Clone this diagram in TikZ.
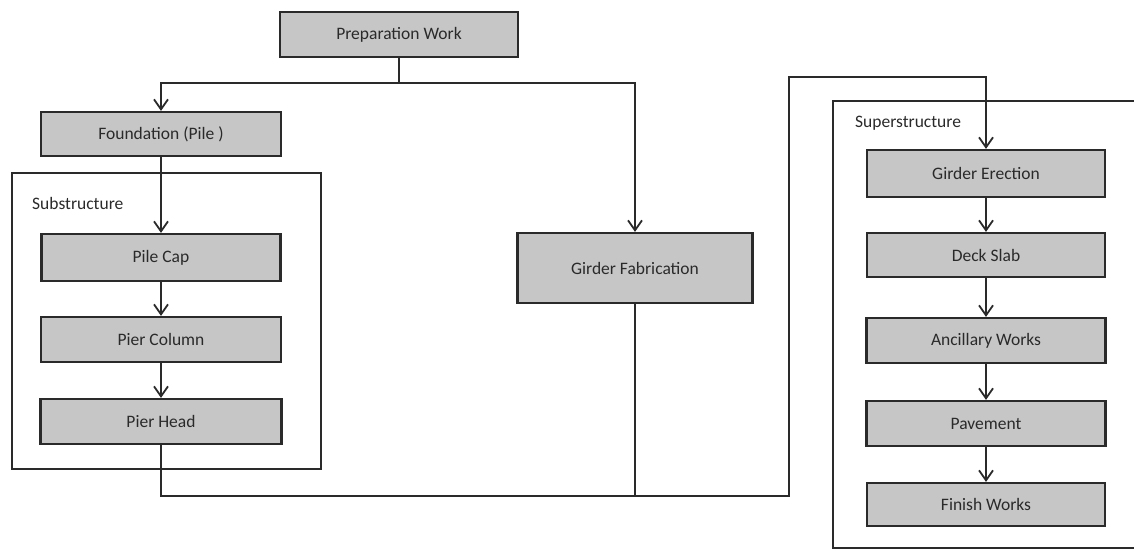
\documentclass[tikz,border=0pt]{standalone}
\usepackage{fontspec}
\setmainfont{Carlito}
\usetikzlibrary{arrows.meta}
\definecolor{boxfill}{HTML}{C6C6C6}
\definecolor{ink}{HTML}{2A2A2A}
\begin{document}
\begin{tikzpicture}[x=1pt,y=-1pt,
  stepbox/.style={draw=ink,line width=2.2pt,fill=boxfill,minimum width=#1,inner sep=0pt,
    font=\fontsize{17.5}{20}\selectfont,text=ink},
  stepbox/.default=239pt,
  frame/.style={draw=ink,line width=1.9pt},
  lbl/.style={anchor=west,inner sep=0pt,font=\fontsize{17.5}{20}\selectfont,text=ink},
  conn/.style={draw=ink,line width=1.8pt},
  arr/.style={conn,-{Straight Barb[length=10pt,width=14pt,line width=1.8pt]}}]
\useasboundingbox (0,0) rectangle (1134,551);
% frames
\draw[frame] (12,173) rectangle (321,469);
\draw[frame] (1140,101) -- (833,101) -- (833,548) -- (1140,548);
\node[lbl] (sublbl) at (32,203) {Substructure};
\node[lbl] (suplbl) at (855,123) {Superstructure};
% boxes
\node[stepbox=238pt,minimum height=45pt] (prep) at (399,34.5) {Preparation Work};
\node[stepbox=240pt,minimum height=44pt] (found) at (161,134) {Foundation (Pile )};
\node[stepbox=239pt,minimum height=47pt] (pilecap) at (161,257.5) {Pile Cap};
\node[stepbox=240pt,minimum height=45pt] (piercol) at (161,339.5) {Pier Column};
\node[stepbox=241pt,minimum height=45pt] (pierhead) at (161,421.5) {Pier Head};
\node[stepbox=235pt,minimum height=70pt] (gfab) at (635,268) {Girder Fabrication};
\node[stepbox=238pt,minimum height=47pt] (gerect) at (986,173.5) {Girder Erection};
\node[stepbox=238pt,minimum height=44pt] (deck) at (986,255) {Deck Slab};
\node[stepbox=239pt,minimum height=45pt] (ancil) at (986,340.5) {Ancillary Works};
\node[stepbox=239pt,minimum height=45pt] (pave) at (986,423.5) {Pavement};
\node[stepbox=238pt,minimum height=43pt] (finish) at (986,504.5) {Finish Works};
% connectors
\draw[arr] (prep.south) -- ++(0,25) -| (found.north);
\draw[arr] (prep.south) -- ++(0,25) -| (gfab.north);
\draw[arr] (found) -- (pilecap);
\draw[arr] (pilecap) -- (piercol);
\draw[arr] (piercol) -- (pierhead);
\coordinate (join) at (635,496);
\draw[conn] (gfab.south) -- (join);
\draw[arr] (pierhead.south) |- (789,496) -- (789,77) -| (gerect.north);
\draw[arr] (gerect) -- (deck);
\draw[arr] (deck) -- (ancil);
\draw[arr] (ancil) -- (pave);
\draw[arr] (pave) -- (finish);
\end{tikzpicture}
\end{document}
